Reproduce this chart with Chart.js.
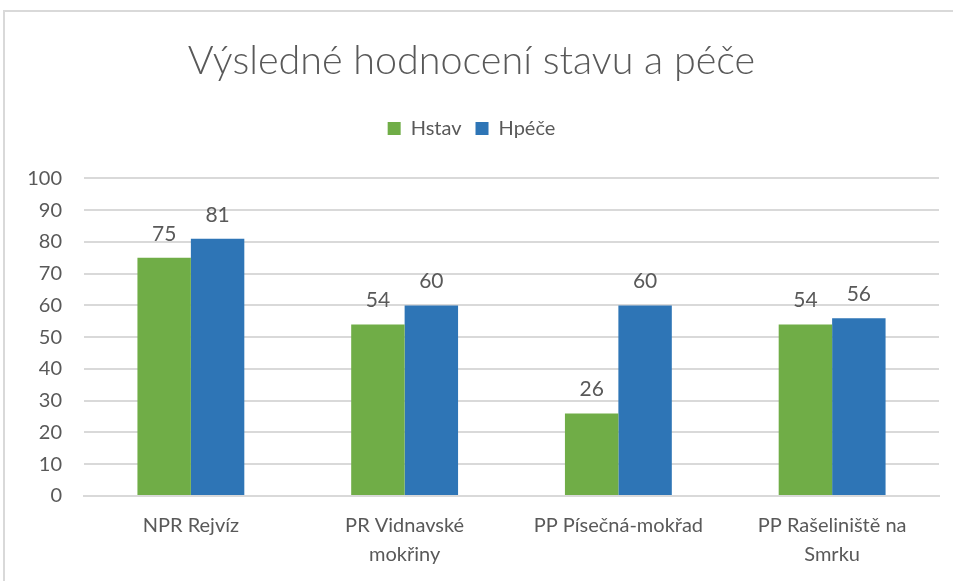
<!DOCTYPE html>
<html>
<head>
<meta charset="utf-8">
<script src="https://cdn.jsdelivr.net/npm/chart.js@4"></script>
<style>
  html, body { margin: 0; padding: 0; background: #fff; }
  #wrap { position: relative; width: 953px; height: 581px; }
  #frame { position: absolute; left: 3px; top: 10px; right: 0; bottom: 0;
           border-left: 2px solid #d9d9d9; border-top: 2px solid #d9d9d9; pointer-events: none; }
</style>
</head>
<body>
<div id="wrap">
  <canvas id="chart" width="953" height="581"></canvas>
  <div id="frame"></div>
</div>
<script>
// Data
var categories = [
    'NPR Rejvíz',
    ['PR Vidnavské', 'mokřiny'],
    'PP Písečná-mokřad',
    ['PP Rašeliniště na', 'Smrku']
];
var hstav = [75, 54, 26, 54];
var hpece = [81, 60, 60, 56];
var yTicks = [0, 10, 20, 30, 40, 50, 60, 70, 80, 90, 100];

var textColor = '#595959';
var fontFamily = 'Lato, "Open Sans", sans-serif';

/**
 * Draws the value above each bar.
 */
var valueLabels = {
    id: 'valueLabels',
    afterDatasetsDraw: function(chart) {
        var ctx = chart.ctx;
        ctx.save();
        ctx.fillStyle = textColor;
        ctx.font = '21px ' + fontFamily;
        ctx.textAlign = 'center';
        ctx.textBaseline = 'alphabetic';
        chart.data.datasets.forEach(function(ds, i) {
            chart.getDatasetMeta(i).data.forEach(function(bar, j) {
                ctx.fillText(ds.data[j], bar.x, bar.y - 17);
            });
        });
        ctx.restore();
    }
};

/**
 * Adds empty space below the legend.
 */
var legendGap = {
    id: 'legendGap',
    beforeInit: function(chart) {
        var fit = chart.legend.fit;
        chart.legend.fit = function() {
            fit.bind(chart.legend)();
            this.height += 30;
        };
    }
};

new Chart(document.getElementById('chart').getContext('2d'), {
    type: 'bar',
    data: {
        labels: categories,
        datasets: [{
            label: 'Hstav',
            data: hstav,
            backgroundColor: '#70ad47'
        }, {
            label: 'Hpéče',
            data: hpece,
            backgroundColor: '#2e75b6'
        }]
    },
    options: {
        responsive: false,
        animation: false,
        layout: { padding: { left: 4, right: 14, top: 38, bottom: 0 } },
        datasets: {
            bar: { categoryPercentage: 0.5, barPercentage: 1.0 }
        },
        plugins: {
            title: {
                display: true,
                text: 'Výsledné hodnocení stavu a péče',
                color: textColor,
                font: { family: fontFamily, size: 39.5, weight: 300 },
                padding: { top: 0, bottom: 19 }
            },
            legend: {
                display: true,
                labels: {
                    color: textColor,
                    font: { family: fontFamily, size: 20 },
                    boxWidth: 13,
                    boxHeight: 13,
                    padding: 14
                }
            },
            tooltip: { enabled: false }
        },
        scales: {
            x: {
                grid: { display: false, drawTicks: false },
                border: { color: '#d9d9d9', width: 2 },
                ticks: {
                    color: textColor,
                    font: { family: fontFamily, size: 20, lineHeight: 1.45 },
                    padding: 15,
                    maxRotation: 0,
                    autoSkip: false
                },
                afterFit: function(scale) { scale.height = 85; }
            },
            y: {
                min: 0,
                max: 100,
                afterBuildTicks: function(scale) {
                    scale.ticks = yTicks.map(function(v) { return { value: v }; });
                },
                grid: { color: '#d9d9d9', lineWidth: 2, drawTicks: false },
                border: { display: false },
                ticks: {
                    color: textColor,
                    font: { family: fontFamily, size: 20 },
                    padding: 22
                },
                afterFit: function(scale) { scale.width = 80; }
            }
        }
    },
    plugins: [valueLabels, legendGap]
});
</script>
</body>
</html>
